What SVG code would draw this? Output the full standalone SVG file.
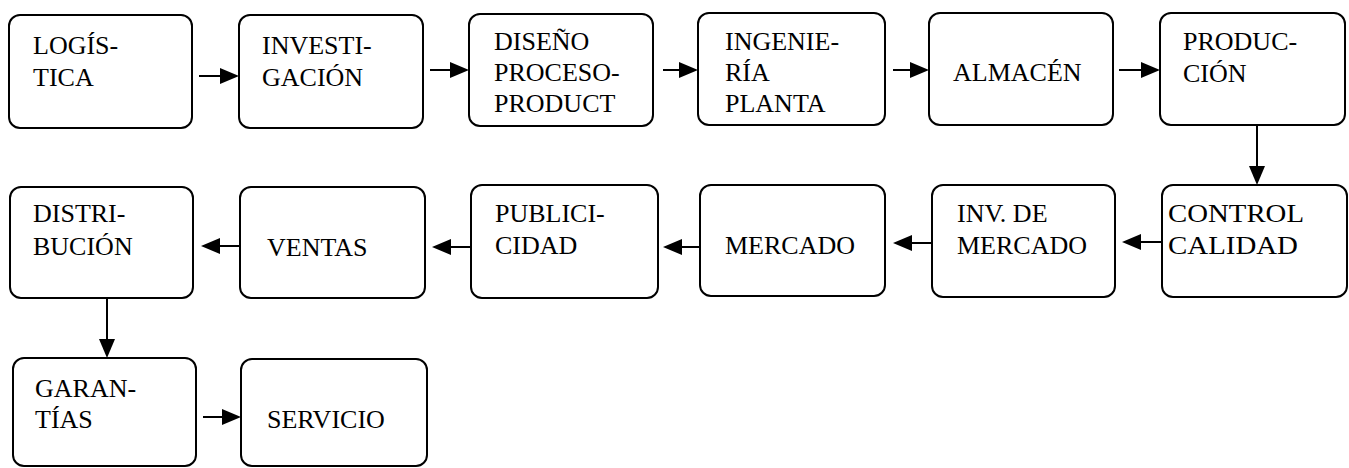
<svg xmlns="http://www.w3.org/2000/svg" width="1349" height="468" viewBox="0 0 1349 468">
<style>
.box{fill:#fff;stroke:#000;stroke-width:2}
.t{font-family:'Liberation Serif','Times New Roman',serif;font-size:26px;fill:#000}
.ln{stroke:#000;stroke-width:2;fill:none}
.hd{fill:#000;stroke:none}
</style>
<rect width="1349" height="468" fill="#fff"/>
<g id="n1"><rect class="box" x="9" y="15" width="183" height="113" rx="11"/><text class="t" x="33" y="54">LOGÍS-</text><text class="t" x="33" y="86">TICA</text></g>
<g id="n2"><rect class="box" x="239" y="15" width="184" height="113" rx="11"/><text class="t" x="262" y="54">INVESTI-</text><text class="t" x="262" y="86">GACIÓN</text></g>
<g id="n3"><rect class="box" x="469" y="14" width="184" height="112" rx="11"/><text class="t" x="494" y="50">DISEÑO</text><text class="t" x="494" y="81">PROCESO-</text><text class="t" x="494" y="112">PRODUCT</text></g>
<g id="n4"><rect class="box" x="698" y="13" width="187" height="112" rx="11"/><text class="t" x="725" y="50">INGENIE-</text><text class="t" x="725" y="81">RÍA</text><text class="t" x="725" y="112">PLANTA</text></g>
<g id="n5"><rect class="box" x="929" y="13" width="184" height="112" rx="11"/><text class="t" x="953" y="81">ALMACÉN</text></g>
<g id="n6"><rect class="box" x="1160" y="13" width="185" height="112" rx="11"/><text class="t" x="1183" y="50">PRODUC-</text><text class="t" x="1183" y="82">CIÓN</text></g>
<g id="n7"><rect class="box" x="1162" y="185" width="185" height="112" rx="11"/><text class="t" x="1168" y="222" textLength="136" lengthAdjust="spacingAndGlyphs">CONTROL</text><text class="t" x="1168" y="254" textLength="130" lengthAdjust="spacingAndGlyphs">CALIDAD</text></g>
<g id="n8"><rect class="box" x="932" y="185" width="183" height="112" rx="11"/><text class="t" x="957" y="222">INV. DE</text><text class="t" x="957" y="254">MERCADO</text></g>
<g id="n9"><rect class="box" x="700" y="185" width="185" height="111" rx="11"/><text class="t" x="725" y="254">MERCADO</text></g>
<g id="n10"><rect class="box" x="471" y="185" width="187" height="113" rx="11"/><text class="t" x="495" y="222">PUBLICI-</text><text class="t" x="495" y="254">CIDAD</text></g>
<g id="n11"><rect class="box" x="240" y="187" width="185" height="111" rx="11"/><text class="t" x="267" y="256">VENTAS</text></g>
<g id="n12"><rect class="box" x="10" y="187" width="183" height="111" rx="11"/><text class="t" x="33" y="222">DISTRI-</text><text class="t" x="33" y="255">BUCIÓN</text></g>
<g id="n13"><rect class="box" x="13" y="358" width="183" height="108" rx="11"/><text class="t" x="35" y="397">GARAN-</text><text class="t" x="35" y="428">TÍAS</text></g>
<g id="n14"><rect class="box" x="241" y="359" width="186" height="107" rx="11"/><text class="t" x="267" y="428">SERVICIO</text></g>
<g id="connectors">
<path class="ln" d="M199,76 H222"/><path class="hd" d="M220,68 L239,76 L220,84 Z"/>
<path class="ln" d="M430,70 H452"/><path class="hd" d="M450,62 L469,70 L450,78 Z"/>
<path class="ln" d="M663,70 H681"/><path class="hd" d="M679,62 L698,70 L679,78 Z"/>
<path class="ln" d="M893,70 H912"/><path class="hd" d="M910,62 L929,70 L910,78 Z"/>
<path class="ln" d="M1119,70 H1143"/><path class="hd" d="M1141,62 L1160,70 L1141,78 Z"/>
<path class="ln" d="M1257,125 V168"/><path class="hd" d="M1249,166 L1257,185 L1265,166 Z"/>
<path class="ln" d="M1162,242 H1139"/><path class="hd" d="M1141,234 L1122,242 L1141,250 Z"/>
<path class="ln" d="M932,243 H910"/><path class="hd" d="M912,235 L893,243 L912,251 Z"/>
<path class="ln" d="M700,247 H680"/><path class="hd" d="M682,239 L663,247 L682,255 Z"/>
<path class="ln" d="M471,247 H449"/><path class="hd" d="M451,239 L432,247 L451,255 Z"/>
<path class="ln" d="M240,246 H218"/><path class="hd" d="M220,238 L201,246 L220,254 Z"/>
<path class="ln" d="M107,298 V341"/><path class="hd" d="M99,339 L107,358 L115,339 Z"/>
<path class="ln" d="M203,417 H224"/><path class="hd" d="M222,409 L241,417 L222,425 Z"/>
</g>
</svg>
